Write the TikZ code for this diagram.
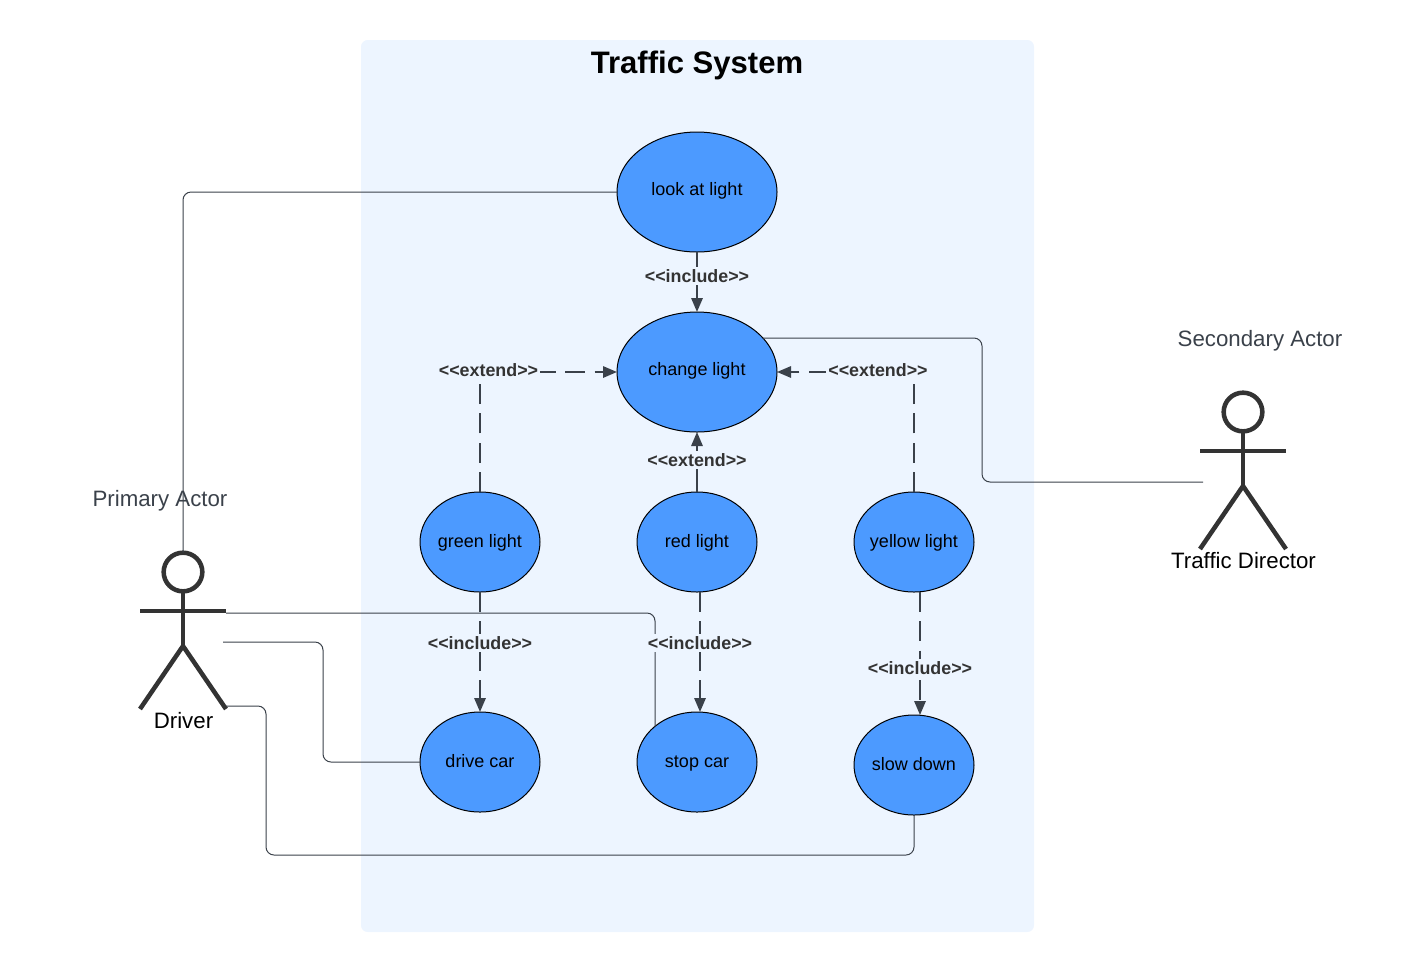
\documentclass[tikz,border=0pt]{standalone}
\usepackage{fontspec}
\setmainfont{Liberation Sans}
\usetikzlibrary{shapes.geometric,arrows.meta,calc}
\definecolor{panelc}{HTML}{EDF5FF}
\definecolor{usec}{HTML}{4C9AFF}
\definecolor{linec}{HTML}{3A414A}
\definecolor{actorc}{HTML}{333333}
\definecolor{capc}{HTML}{3A414A}
\tikzset{
  x=0.75pt,y=-0.75pt,
  usecase/.style={ellipse,draw=black,fill=usec,line width=0.75pt,inner sep=-8pt,outer sep=0pt,text height=11.5pt,text depth=3pt,font=\fontsize{13.5pt}{16pt}\selectfont,text=black},
  bigcase/.style={usecase,minimum width=120pt,minimum height=90pt},
  smallcase/.style={usecase,minimum width=90pt,minimum height=75pt},
  assoc/.style={draw=linec,line width=0.75pt,rounded corners=6pt},
  incl/.style={draw=linec,line width=1.5pt,-{Triangle[length=10.5pt,width=8.5pt]}},
  dep/.style={incl,dash pattern=on 15pt off 7pt},
  stereo/.style={fill=panelc,inner sep=1.5pt,font=\bfseries\fontsize{13.4pt}{16pt}\selectfont,text=actorc},
  limb/.style={draw=actorc,line width=3.4pt},
  head/.style={circle,draw=actorc,fill=white,line width=3.4pt,minimum size=29pt,inner sep=0pt,outer sep=0pt},
  actorname/.style={font=\fontsize{16.7pt}{20pt}\selectfont,text=black},
  rolename/.style={font=\fontsize{16.7pt}{20pt}\selectfont,text=capc},
}
\begin{document}
\begin{tikzpicture}
\useasboundingbox (0,0) rectangle (1420,972);
\fill[panelc,rounded corners=5pt] (361,40) rectangle (1034,932);
\node[font=\bfseries\fontsize{23.3pt}{28pt}\selectfont] (title) at (697,65) {Traffic System};

\node[bigcase] (look) at (697,192) {\raisebox{1.5pt}{look at light}};
\node[bigcase] (change) at (697,372) {\raisebox{1.5pt}{change light}};
\node[smallcase] (green) at (480,542) {green light};
\node[smallcase] (red) at (697,542) {red light};
\node[smallcase] (yellow) at (914,542) {yellow light};
\node[smallcase] (drive) at (480,762) {drive car};
\node[smallcase] (stop) at (697,762) {stop car};
\node[smallcase] (slow) at (914,765) {slow down};

% actors
\node[head] (drvhead) at (183,572) {};
\coordinate (drvhip) at (183,646);
\coordinate (drvarmL) at (140,611);
\coordinate (drvarmR) at (226,611);
\coordinate (drvlegL) at (140,709);
\coordinate (drvlegR) at (226,709);
\draw[limb] (drvhead.south) -- (drvhip);
\draw[limb] (drvarmL) -- (drvarmR);
\draw[limb] (drvlegL) -- (drvhip) -- (drvlegR);
\node[actorname] (driver) at (183.5,721) {Driver};
\node[rolename] (primary) at (160,501) {Primary Actor};

\node[head] (dirhead) at (1243,412) {};
\coordinate (dirhip) at (1243,486);
\coordinate (dirarmL) at (1200,451);
\coordinate (dirarmR) at (1286,451);
\coordinate (dirlegL) at (1200,549);
\coordinate (dirlegR) at (1286,549);
\draw[limb] (dirhead.south) -- (dirhip);
\draw[limb] (dirarmL) -- (dirarmR);
\draw[limb] (dirlegL) -- (dirhip) -- (dirlegR);
\node[actorname] (director) at (1243.5,561) {Traffic Director};
\node[rolename] (secondary) at (1260,341) {Secondary Actor};

% associations
\draw[assoc] (look.west) -- (183,192) -- (drvhead.north);
\coordinate (chgNE) at (763,338);
\coordinate (dirend) at (1203,482);
\draw[assoc] (chgNE) -- (982,338) -- (982,482) -- (dirend);
\coordinate (drvA) at (226,613);
\coordinate (stopNW) at (655,727);
\draw[assoc] (drvA) -- (655,613) -- (stopNW);
\coordinate (drvB) at (223,642);
\draw[assoc] (drvB) -- (323,642) -- (323,762) -- (drive.west);
\coordinate (drvC) at (226,706);
\draw[assoc] (drvC) -- (266,706) -- (266,855) -- (914,855) -- (slow.south);

% dependencies
\draw[incl] (look.south) -- (change.north);
\draw[incl] (red.north) -- (change.south);
\draw[dep] (green.north) -- (480,372) -- (change.west);
\draw[dep] (yellow.north) -- (914,372) -- (change.east);
\draw[dep] (green.south) -- (drive.north);
\coordinate (redS) at (700,592);
\coordinate (stopN) at (700,712);
\draw[dep] (redS) -- (stopN);
\coordinate (yelS) at (920,592);
\coordinate (slowN) at (920,715);
\draw[dep] (yelS) -- (slowN);

% stereotypes
\node[stereo] (s1) at (697,276) {<{}<include>{}>};
\node[stereo] (s2) at (488.5,370) {<{}<extend>{}>};
\node[stereo] (s3) at (878,370) {<{}<extend>{}>};
\node[stereo] (s4) at (697,460) {<{}<extend>{}>};
\node[stereo] (s5) at (480,643) {<{}<include>{}>};
\node[stereo] (s6) at (700,643) {<{}<include>{}>};
\node[stereo] (s7) at (920,668) {<{}<include>{}>};
\end{tikzpicture}
\end{document}
